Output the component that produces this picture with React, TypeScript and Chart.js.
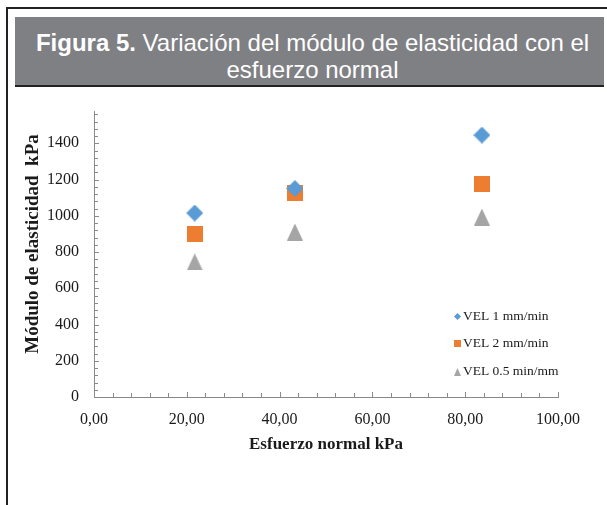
import React, { useEffect, useRef } from 'react';
import { Chart, registerables } from 'chart.js';

Chart.register(...registerables);

// ---- data ----
const xValues = [21.7, 43.3, 83.6]; // Esfuerzo normal kPa
const vel1 = [1015, 1150, 1445]; // VEL 1 mm/min
const vel2 = [897, 1128, 1175]; // VEL 2 mm/min
const vel05 = [745, 910, 993]; // VEL 0.5 min/mm
const seriesNames = ['VEL 1 mm/min', 'VEL 2 mm/min', 'VEL 0.5 min/mm'];
const seriesColors = ['#5B9BD5', '#ED7D31', '#A5A5A5'];
const seriesShapes = ['diamond', 'square', 'triangle'];
const xTickValues = [0, 20, 40, 60, 80, 100];
const yTickValues = [0, 200, 400, 600, 800, 1000, 1200, 1400, 1600];

const titleBold = 'Figura 5.';
const titleRest = ' Variación del módulo de elasticidad con el';
const titleLine2 = 'esfuerzo normal';
const xTitle = 'Esfuerzo normal kPa';
const yTitle = 'Módulo de elasticidad  kPa';

const SERIF = '"Liberation Serif", "Times New Roman", serif';

function makeMarker(shape: string, color: string, w: number, h: number) {
  const c = document.createElement('canvas');
  c.width = w;
  c.height = h;
  const ctx = c.getContext('2d')!;
  ctx.fillStyle = color;
  ctx.beginPath();
  if (shape === 'diamond') {
    ctx.moveTo(w / 2, 0);
    ctx.lineTo(w, h / 2);
    ctx.lineTo(w / 2, h);
    ctx.lineTo(0, h / 2);
  } else if (shape === 'square') {
    ctx.rect(0, 0, w, h);
  } else {
    ctx.moveTo(w / 2, 0);
    ctx.lineTo(w, h);
    ctx.lineTo(0, h);
  }
  ctx.closePath();
  ctx.fill();
  return c;
}

const fmtX = (v: number) => v.toFixed(2).replace('.', ',');

export default function App() {
  const ref = useRef<HTMLCanvasElement | null>(null);

  useEffect(() => {
    if (!ref.current) return;
    const bigSizes = [
      [17, 17],
      [16, 16],
      [16, 17],
    ];
    const smallSizes = [
      [7, 7],
      [7, 7],
      [7, 8],
    ];
    const bigMarkers = seriesShapes.map((s, i) =>
      makeMarker(s, seriesColors[i], bigSizes[i][0], bigSizes[i][1])
    );
    const smallMarkers = seriesShapes.map((s, i) =>
      makeMarker(s, seriesColors[i], smallSizes[i][0], smallSizes[i][1])
    );
    const seriesValues = [vel1, vel2, vel05];

    const inwardTicks = {
      id: 'inwardTicks',
      afterDraw(chart: any) {
        const { ctx } = chart;
        const xs = chart.scales.x;
        const ys = chart.scales.y;
        const area = chart.chartArea;
        ctx.save();
        ctx.strokeStyle = '#8a8a8a';
        ctx.lineWidth = 1;
        ctx.beginPath();
        for (let v = 0; v <= 100 + 1e-6; v += 4) {
          const px = Math.round(xs.getPixelForValue(v)) + 0.5;
          const major = Math.abs(v % 20) < 1e-6;
          const len = major ? 5 : 4;
          const by = Math.round(area.bottom);
          ctx.moveTo(px, by);
          ctx.lineTo(px, by - len);
        }
        for (let v = 0; v <= 1600 + 1e-6; v += 40) {
          const py = Math.round(ys.getPixelForValue(v)) + 0.5;
          const major = Math.abs(v % 200) < 1e-6;
          const len = major ? 5 : 4;
          const lx = Math.round(area.left);
          ctx.moveTo(lx, py);
          ctx.lineTo(lx + len, py);
        }
        ctx.stroke();
        ctx.restore();
      },
    };

    // y-axis title drawn at the position it has in the reference
    const yTitlePlugin = {
      id: 'yTitle',
      afterDraw(chart: any) {
        const { ctx } = chart;
        ctx.save();
        ctx.translate(33, 244);
        ctx.rotate(-Math.PI / 2);
        ctx.font = 'bold 19px ' + SERIF;
        ctx.fillStyle = '#1a1a1a';
        ctx.textAlign = 'center';
        ctx.textBaseline = 'middle';
        ctx.fillText(yTitle, 0, 0);
        ctx.restore();
      },
    };

    const legendPlugin = {
      id: 'customLegend',
      afterDraw(chart: any) {
        const { ctx } = chart;
        const markerX = 457;
        const textX = 463;
        const rowsY = [316, 343.5, 371.5];
        ctx.save();
        ctx.font = '13.5px ' + SERIF;
        ctx.fillStyle = '#1a1a1a';
        ctx.textBaseline = 'middle';
        ctx.textAlign = 'left';
        seriesNames.forEach((name, i) => {
          const m = smallMarkers[i];
          ctx.drawImage(m, Math.round(markerX - m.width / 2), Math.round(rowsY[i] - m.height / 2));
          ctx.fillText(name, textX, rowsY[i]);
        });
        ctx.restore();
      },
    };

    const chart = new Chart(ref.current, {
      type: 'scatter',
      data: {
        datasets: seriesNames.map((name, i) => ({
          label: name,
          data: xValues.map((x, j) => ({ x, y: seriesValues[i][j] })),
          pointStyle: bigMarkers[i] as any,
          backgroundColor: seriesColors[i],
          borderColor: seriesColors[i],
          showLine: false,
        })),
      },
      options: {
        animation: false,
        responsive: false,
        devicePixelRatio: 1,
        layout: { padding: { left: 0, top: 107, right: 49, bottom: 46 } },
        plugins: {
          legend: { display: false },
          tooltip: { enabled: false },
        },
        scales: {
          x: {
            type: 'linear',
            min: 0,
            max: 100,
            afterFit: (s: any) => {
              s.height = 62;
            },
            afterBuildTicks: (s: any) => {
              s.ticks = xTickValues.map((v) => ({ value: v }));
            },
            grid: { display: false, drawTicks: false },
            border: { display: true, color: '#8a8a8a', width: 1 },
            ticks: {
              padding: 13,
              color: '#1a1a1a',
              font: { family: SERIF, size: 16 },
              callback: (v: any) => fmtX(Number(v)),
              maxRotation: 0,
              autoSkip: false,
            },
            title: {
              display: true,
              text: xTitle,
              color: '#1a1a1a',
              font: { family: SERIF, size: 17, weight: 'bold' },
            },
          },
          y: {
            type: 'linear',
            min: 0,
            max: 1600,
            afterFit: (s: any) => {
              s.width = 94;
            },
            afterBuildTicks: (s: any) => {
              s.ticks = yTickValues.map((v) => ({ value: v }));
            },
            grid: { display: false, drawTicks: false },
            border: { display: true, color: '#8a8a8a', width: 1 },
            ticks: {
              padding: 15,
              color: '#1a1a1a',
              font: { family: SERIF, size: 16 },
              callback: (v: any) => String(v),
              autoSkip: false,
            },
            title: { display: false },
          },
        },
      },
      plugins: [inwardTicks, yTitlePlugin, legendPlugin],
    });
    return () => chart.destroy();
  }, []);

  return (
    <div style={{ position: 'absolute', left: 0, top: 0, width: 607, height: 505, overflow: 'hidden', background: '#fff' }}>
      <canvas ref={ref} width={607} height={505} style={{ position: 'absolute', left: 0, top: 0, width: 607, height: 505 }} />
      {/* white mask clipping the top of the plot */}
      <div style={{ position: 'absolute', left: 9, top: 88, width: 598, height: 23, background: '#fff' }} />
      {/* frame */}
      <div style={{ position: 'absolute', left: 6, top: 7, width: 2, height: 498, background: '#222' }} />
      <div style={{ position: 'absolute', left: 6, top: 7, width: 601, height: 2, background: '#222' }} />
      {/* title box */}
      <div
        style={{
          position: 'absolute',
          left: 15,
          top: 17,
          width: 589,
          height: 70,
          background: '#7f8084',
          borderBottom: '2px solid #222',
          color: '#fff',
          fontFamily: '"Liberation Sans", Arial, sans-serif',
          fontSize: 24,
          lineHeight: '27px',
          textAlign: 'center',
          paddingTop: 12,
          boxSizing: 'border-box',
          paddingLeft: 6,
          whiteSpace: 'nowrap',
        }}
      >
        <span style={{ fontWeight: 'bold' }}>{titleBold}</span>
        {titleRest}
        <br />
        {titleLine2}
      </div>
    </div>
  );
}
